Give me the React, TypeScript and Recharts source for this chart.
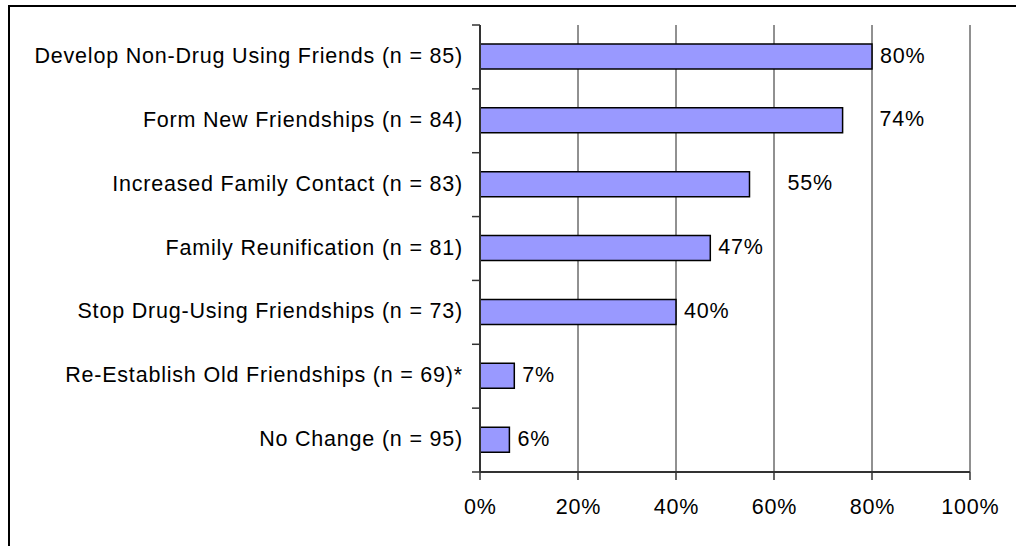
import React from 'react';
import { BarChart, Bar, XAxis, YAxis, CartesianGrid, LabelList } from 'recharts';

const categories = [
  'Develop Non-Drug Using Friends (n = 85)',
  'Form New Friendships (n = 84)',
  'Increased Family Contact (n = 83)',
  'Family Reunification (n = 81)',
  'Stop Drug-Using Friendships (n = 73)',
  'Re-Establish Old Friendships (n = 69)*',
  'No Change (n = 95)',
];
const percentValues = [80, 74, 55, 47, 40, 7, 6];
const xTickValues = [0, 20, 40, 60, 80, 100];

const data = categories.map((name, i) => ({ name, value: percentValues[i] }));

const W = 1016;
const H = 546;
const MARGIN = { top: 25, right: 46, bottom: 34, left: 0 };
const X_AXIS_H = 40;
const Y_AXIS_W = 480;
const PLOT_H = H - MARGIN.top - MARGIN.bottom - X_AXIS_H;
const BAND = PLOT_H / categories.length;
const TICK_SIZE = 8;
const Y_TICK_MARGIN = 9;
const FONT = "'Liberation Sans', Arial, sans-serif";
const FONT_SIZE = 21.5;
const LETTER_SP = 0.8;

// manual label nudges (as in the original, two labels were dragged right)
const labelNudge: Record<number, number> = { 1: 29, 2: 30 };

function YTick(props: any) {
  const { x, y, payload, index } = props;
  const axisX = x + TICK_SIZE + Y_TICK_MARGIN;
  const last = index === categories.length - 1;
  return (
    <g>
      <line x1={axisX - TICK_SIZE} x2={axisX} y1={y - BAND / 2} y2={y - BAND / 2} stroke="#333" strokeWidth={1.5} />
      {last && (
        <line x1={axisX - TICK_SIZE} x2={axisX} y1={y + BAND / 2} y2={y + BAND / 2} stroke="#333" strokeWidth={1.5} />
      )}
      <text x={x} y={y} dy={6} textAnchor="end" fontSize={FONT_SIZE} letterSpacing={LETTER_SP} fill="#000" fontFamily={FONT}>
        {payload.value}
      </text>
    </g>
  );
}

function XTick(props: any) {
  const { x, y, payload } = props;
  return (
    <text x={x + 0.4} y={y} dy={15} textAnchor="middle" fontSize={FONT_SIZE} letterSpacing={LETTER_SP} fill="#000" fontFamily={FONT}>
      {`${payload.value}%`}
    </text>
  );
}

function ValueLabel(props: any) {
  const { x, y, width, height, value, index } = props;
  const nudge = labelNudge[index] || 0;
  return (
    <text
      x={x + width + 8 + nudge}
      y={y + height / 2}
      dy={6}
      textAnchor="start"
      fontSize={FONT_SIZE}
      letterSpacing={LETTER_SP}
      fill="#000"
      fontFamily={FONT}
    >
      {`${value}%`}
    </text>
  );
}

export default function App() {
  return (
    <div
      style={{
        position: 'fixed',
        left: 0,
        top: 0,
        width: W,
        height: H,
        overflow: 'hidden',
        background: '#fff',
        fontFamily: FONT,
      }}
    >
      <div
        style={{
          position: 'absolute',
          left: 8,
          top: 5,
          width: 1200,
          height: 800,
          border: '2px solid #000',
        }}
      />
      <div style={{ position: 'absolute', left: 0, top: 0 }}>
        <BarChart width={W} height={H} data={data} layout="vertical" margin={MARGIN}>
          <CartesianGrid horizontal={false} vertical={true} stroke="#222" strokeWidth={1} />
          <XAxis
            type="number"
            domain={[0, 100]}
            ticks={xTickValues}
            height={X_AXIS_H}
            tickSize={TICK_SIZE}
            tickMargin={19}
            tick={<XTick />}
            axisLine={{ stroke: '#333', strokeWidth: 2 }}
            tickLine={{ stroke: '#333', strokeWidth: 1.5 }}
            interval={0}
          />
          <XAxis
            xAxisId="top"
            orientation="top"
            type="number"
            domain={[0, 100]}
            height={0}
            tick={false}
            tickLine={false}
            axisLine={{ stroke: '#999', strokeWidth: 2 }}
          />
          <YAxis
            type="category"
            dataKey="name"
            width={Y_AXIS_W}
            tickSize={TICK_SIZE}
            tickMargin={Y_TICK_MARGIN}
            tickLine={false}
            tick={<YTick />}
            axisLine={{ stroke: '#333', strokeWidth: 2 }}
            interval={0}
          />
          <YAxis
            yAxisId="right"
            orientation="right"
            type="category"
            dataKey="name"
            width={0}
            tick={false}
            tickLine={false}
            axisLine={{ stroke: '#999', strokeWidth: 2 }}
          />
          <Bar dataKey="value" fill="#9999FF" stroke="#000" strokeWidth={1.5} barSize={25} isAnimationActive={false}>
            <LabelList dataKey="value" content={<ValueLabel />} />
          </Bar>
        </BarChart>
      </div>
    </div>
  );
}
